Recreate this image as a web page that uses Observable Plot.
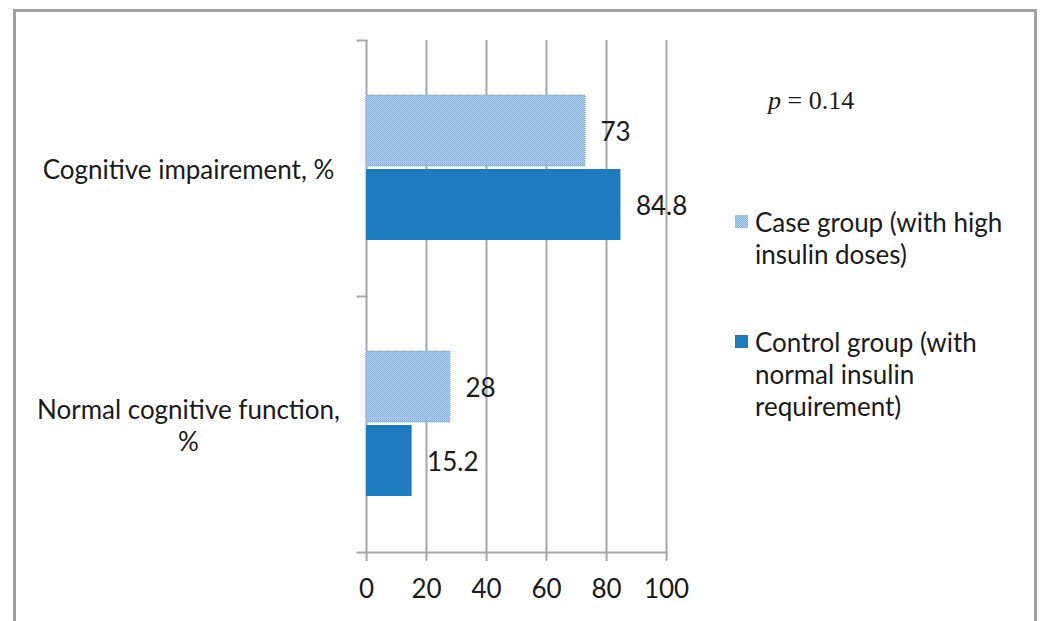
<!DOCTYPE html>
<html>
<head>
<meta charset="utf-8">
<script src="https://cdn.jsdelivr.net/npm/d3@7"></script>
<script src="https://cdn.jsdelivr.net/npm/@observablehq/plot@0.6"></script>
<style>
  html, body { margin: 0; padding: 0; background: #fff; overflow: hidden; }
  #wrap { position: relative; width: 1040px; height: 621px; font-family: Lato, "Open Sans", sans-serif; color: #1a1a1a; }
  #border { position: absolute; left: 13px; top: 9px; width: 1018px; height: 660px; border: 3px solid #a0a0a0; box-sizing: content-box; }
  #chart { position: absolute; left: 0; top: 0; }
  .legend { position: absolute; left: 735px; font-size: 26px; line-height: 32px; }
  .legend .item { position: absolute; left: 0; width: 300px; }
  .legend .sw { position: absolute; left: 0; top: 9px; width: 13px; height: 13px; }
  .legend .lbl { position: absolute; left: 20px; white-space: nowrap; }
  #pval { position: absolute; left: 768px; top: 86px; font-family: "Liberation Serif", serif; font-size: 26px; line-height: 30px; }
</style>
</head>
<body>
<div id="wrap">
  <div id="border"></div>
  <div id="chart"></div>
  <div id="pval"><i>p</i> = 0.14</div>
  <div class="legend" id="legend"></div>
</div>
<script>
// ---- data ----
const categories = ["Cognitive impairement, %", "Normal cognitive function, %"];
const categoryLabels = ["Cognitive impairement, %", "Normal cognitive function,\n%"];
const groups = ["Case group (with high insulin doses)", "Control group (with normal insulin requirement)"];
const groupLegendLines = [["Case group (with high", "insulin doses)"], ["Control group (with", "normal insulin", "requirement)"]];
const caseValues = [73, 28];
const controlValues = [84.8, 15.2];
const xTicks = [0, 20, 40, 60, 80, 100];

const caseColor = "url(#casePattern)";
const controlColor = "#1f7bc0";

const rows = [];
categories.forEach((c, i) => {
  rows.push({category: c, group: groups[0], value: caseValues[i]});
  rows.push({category: c, group: groups[1], value: controlValues[i]});
});

const gridColor = "#a6a6a6";

const chart = Plot.plot({
  width: 1040,
  height: 621,
  marginLeft: 366,
  marginRight: 374,
  marginTop: 40,
  marginBottom: 69,
  style: {fontFamily: "Lato, 'Open Sans', sans-serif", fontSize: "26px", color: "#1a1a1a", background: "transparent"},
  x: {domain: [0, 100], ticks: xTicks, label: null},
  y: {domain: groups, paddingInner: 0.04, paddingOuter: 0.727, axis: null},
  fy: {domain: categories, padding: 0, axis: null},
  marks: [
    Plot.gridX(xTicks, {stroke: gridColor, strokeWidth: 2, strokeOpacity: 1}),
    Plot.barX(rows.filter(d => d.group === groups[0]), {
      x: "value", y: "group", fy: "category",
      fill: caseColor, stroke: "#7fa9d6", strokeWidth: 1, strokeDasharray: "1,1"
    }),
    Plot.barX(rows.filter(d => d.group === groups[1]), {
      x: "value", y: "group", fy: "category", fill: controlColor
    }),
    Plot.text(rows, {
      x: "value", y: "group", fy: "category", text: d => String(d.value),
      textAnchor: "start", dx: 15, dy: 2, fontSize: 26, fill: "#1a1a1a"
    }),
    Plot.text(categories, {
      fy: d => d, text: (d, i) => categoryLabels[i], frameAnchor: "left",
      dx: -178, textAnchor: "middle", lineHeight: 1.23, fontSize: 26, fill: "#1a1a1a"
    }),
    // category boundary ticks on the y axis
    Plot.frame({anchor: "top", stroke: gridColor, strokeWidth: 2, strokeOpacity: 1, insetLeft: -9, insetRight: 300}),
    // x-axis baseline with bottom tick
    Plot.frame({anchor: "bottom", facet: "super", stroke: gridColor, strokeWidth: 2, strokeOpacity: 1, insetLeft: -9}),
    Plot.axisX(xTicks, {tickSize: 9, tickPadding: 18, stroke: gridColor, strokeWidth: 2, strokeOpacity: 1, fontSize: 26, fill: "#1a1a1a", label: null})
  ]
});

// pattern for the case group bars
const defs = d3.select(chart).insert("defs", ":first-child");
const pat = defs.append("pattern").attr("id", "casePattern").attr("patternUnits", "userSpaceOnUse")
  .attr("width", 2).attr("height", 2);
pat.append("rect").attr("width", 2).attr("height", 2).attr("fill", "#b3d1ed");
pat.append("rect").attr("x", 0).attr("y", 0).attr("width", 1).attr("height", 1).attr("fill", "#86b3de");
pat.append("rect").attr("x", 1).attr("y", 1).attr("width", 1).attr("height", 1).attr("fill", "#86b3de");

document.getElementById("chart").appendChild(chart);

// legend
const legend = document.getElementById("legend");
const legendTops = [206, 326];
groups.forEach((g, i) => {
  const item = document.createElement("div");
  item.className = "item";
  item.style.top = legendTops[i] + "px";
  const sw = document.createElement("div");
  sw.className = "sw";
  sw.style.background = i === 0 ? "repeating-conic-gradient(#86b3de 0% 25%, #b3d1ed 0% 50%) 0 0 / 2px 2px" : controlColor;
  const lbl = document.createElement("div");
  lbl.className = "lbl";
  lbl.innerHTML = groupLegendLines[i].join("<br>");
  item.appendChild(sw);
  item.appendChild(lbl);
  legend.appendChild(item);
});
</script>
</body>
</html>
